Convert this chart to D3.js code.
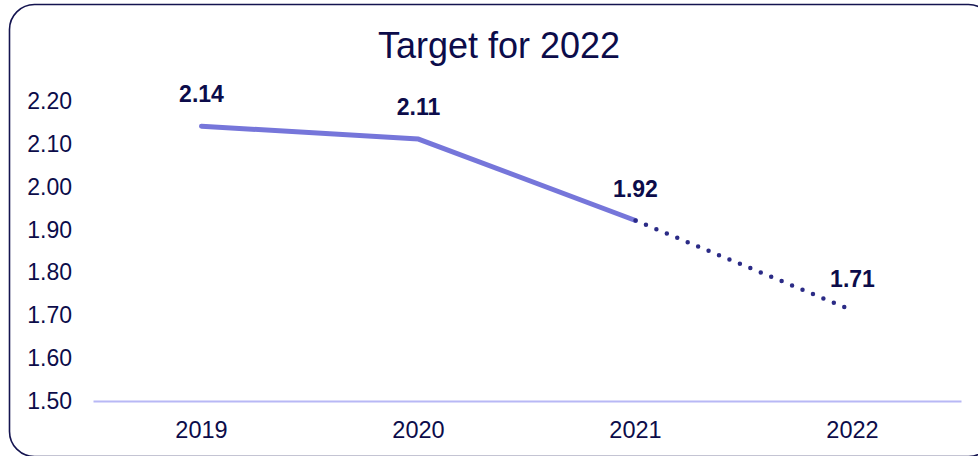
<!DOCTYPE html>
<html><head><meta charset="utf-8">
<script src="https://cdn.jsdelivr.net/npm/d3@7"></script>
<style>html,body{margin:0;padding:0;background:#fff;}svg{display:block;}</style>
</head><body>
<svg id="c" width="978" height="456"></svg>
<script>
const title = "Target for 2022";
const years = ["2019", "2020", "2021", "2022"];
const values = [2.14, 2.11, 1.92, 1.71];
const labels = ["2.14", "2.11", "1.92", "1.71"];
const yTicks = [1.5, 1.6, 1.7, 1.8, 1.9, 2.0, 2.1, 2.2];
const actualCount = 3; // first three are actual, last segment is target

const svg = d3.select("#c");
const font = "'Liberation Sans', Arial, sans-serif";
const navy = "#0c0c4a";

svg.append("rect").attr("x", 9.5).attr("y", 4.5).attr("width", 984).attr("height", 452)
  .attr("rx", 25).attr("fill", "#fff").attr("stroke", "#141450").attr("stroke-width", 1.6);

const x = d3.scaleBand().domain(years).range([93, 961]);
const y = d3.scaleLinear().domain([1.5, 2.2]).range([400.5, 100.5]);

svg.append("text").attr("x", 499).attr("y", 58).attr("text-anchor", "middle")
  .attr("font-family", font).attr("font-size", 36).attr("fill", navy).text(title);

// y axis labels
const yAxis = d3.axisLeft(y).tickValues(yTicks).tickFormat(d3.format(".2f")).tickSize(0).tickPadding(0);
const ga = svg.append("g").attr("transform", "translate(72,0)").call(yAxis);
ga.select(".domain").remove();
ga.selectAll("text").attr("font-family", font).attr("font-size", 23).attr("fill", navy).attr("dy", "0.35em");

// x axis
const xAxis = d3.axisBottom(x).tickSize(0).tickPadding(0);
const gx = svg.append("g").attr("transform", "translate(0,401)").call(xAxis);
gx.select(".domain").attr("stroke", "#b8b8f5").attr("stroke-width", 2);
gx.selectAll("text").attr("font-family", font).attr("font-size", 23.5).attr("fill", navy)
  .attr("dy", null).attr("y", 37);

const pts = years.map((yr, i) => ({x: x(yr) + x.bandwidth() / 2, y: y(values[i]), l: labels[i]}));
const line = d3.line().x(d => d.x).y(d => d.y);

svg.append("path").attr("d", line(pts.slice(0, actualCount)))
  .attr("fill", "none").attr("stroke", "#7676da").attr("stroke-width", 5)
  .attr("stroke-linecap", "round").attr("stroke-linejoin", "round");

svg.append("path").attr("d", line(pts.slice(actualCount - 1)))
  .attr("fill", "none").attr("stroke", "#2b2b86").attr("stroke-width", 4.5)
  .attr("stroke-linecap", "round").attr("stroke-dasharray", "0 11.3");

svg.selectAll("text.lbl").data(pts).enter().append("text").attr("class", "lbl")
  .attr("x", d => d.x).attr("y", d => d.y - 24).attr("text-anchor", "middle")
  .attr("font-family", font).attr("font-size", 23).attr("font-weight", "bold")
  .attr("fill", navy).text(d => d.l);
</script>
</body></html>
